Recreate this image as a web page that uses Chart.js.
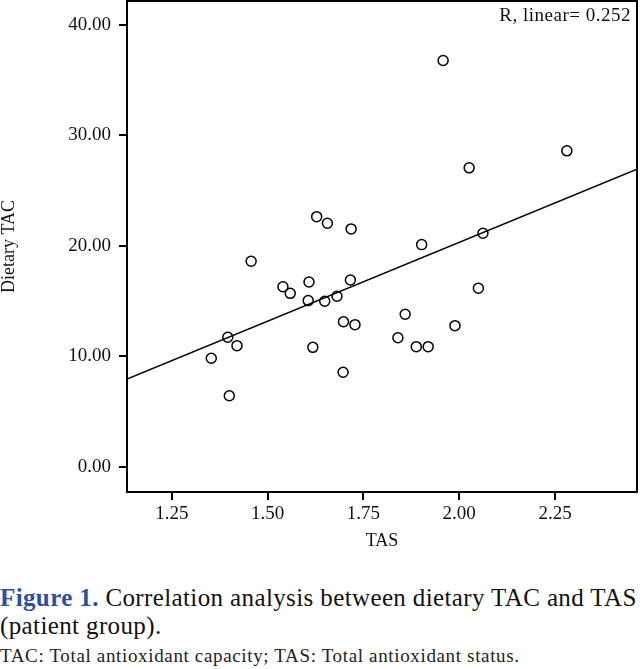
<!DOCTYPE html>
<html>
<head>
<meta charset="utf-8">
<script src="https://cdn.jsdelivr.net/npm/chart.js@4.4.1/dist/chart.umd.min.js"></script>
<style>
    body { margin: 0; background: #fff; font-family: "Liberation Serif", "DejaVu Serif", serif; }
    #wrap { position: relative; width: 644px; height: 556px; }
    .caption { font-size: 25px; letter-spacing: 0.38px; line-height: 28px; color: #111; margin: 28px 0 0 0; }
    .caption b { color: #2c4fa3; }
    .note { font-size: 19px; letter-spacing: 0.65px; color: #222; margin-top: 5px; }
</style>
</head>
<body>
<div id="wrap"><canvas id="scatter"></canvas></div>
<div class="caption"><b>Figure 1.</b> Correlation analysis between dietary TAC and TAS<br>(patient group).</div>
<div class="note">TAC: Total antioxidant capacity; TAS: Total antioxidant status.</div>

<script>
// values
const tasValues = [1.958, 2.026, 2.281, 1.628, 1.656, 1.718, 1.902, 2.062, 1.457, 1.540,
                   1.559, 1.608, 1.716, 2.050, 1.606, 1.649, 1.681, 1.859, 1.698, 1.728,
                   1.989, 1.396, 1.420, 1.840, 1.888, 1.919, 1.618, 1.353, 1.697, 1.400];
const tacValues = [36.78, 27.06, 28.60, 22.64, 22.05, 21.53, 20.11, 21.14, 18.60, 16.30,
                   15.70, 16.73, 16.91, 16.16, 15.04, 14.98, 15.43, 13.80, 13.13, 12.86,
                   12.77, 11.72, 10.96, 11.68, 10.87, 10.87, 10.81, 9.82, 8.55, 6.43];

// fit line end points (at the plot edges)
const fitX = [1.133, 2.464];
const fitY = [7.94, 26.94];

const xTicks = [1.25, 1.50, 1.75, 2.00, 2.25];
const yTicks = [0, 10, 20, 30, 40];
const rLabel = "R, linear= 0.252";

const serif = "'Liberation Serif', 'DejaVu Serif', serif";

const framePlugin = {
    id: 'frame',
    afterDatasetsDraw(chart) {
        const { ctx, chartArea: a } = chart;
        ctx.save();
        ctx.strokeStyle = '#000';
        ctx.lineWidth = 2;
        ctx.strokeRect(a.left, a.top, a.right - a.left, a.bottom - a.top);
        ctx.fillStyle = '#111';
        ctx.font = '19px ' + serif;
        ctx.letterSpacing = '0.5px';
        ctx.textAlign = 'right';
        ctx.textBaseline = 'middle';
        ctx.fillText(rLabel, a.right - 6, a.top + 15);
        ctx.restore();
    }
};

const points = tasValues.map((x, i) => ({ x: x, y: tacValues[i] }));
const fitLine = fitX.map((x, i) => ({ x: x, y: fitY[i] }));

new Chart(document.getElementById('scatter'), {
    type: 'scatter',
    data: {
        datasets: [
            {
                data: fitLine,
                type: 'line',
                showLine: true,
                borderColor: '#000',
                borderWidth: 1.5,
                pointRadius: 0,
                fill: false
            },
            {
                data: points,
                pointRadius: 5,
                pointBorderWidth: 1.5,
                pointBorderColor: '#000',
                pointBackgroundColor: 'rgba(0,0,0,0)'
            }
        ]
    },
    options: {
        responsive: true,
        maintainAspectRatio: false,
        animation: false,
        layout: { autoPadding: false, padding: { top: 1, right: 7, left: 0, bottom: 0 } },
        plugins: { legend: { display: false }, tooltip: { enabled: false } },
        scales: {
            x: {
                type: 'linear',
                min: fitX[0],
                max: fitX[1],
                afterBuildTicks: s => { s.ticks = xTicks.map(v => ({ value: v })); },
                afterFit: s => { s.height = 64; s.paddingLeft = 0; s.paddingRight = 0; },
                border: { display: false },
                grid: { drawOnChartArea: false, tickLength: 8, color: '#000', lineWidth: 2 },
                ticks: {
                    padding: 3,
                    color: '#111',
                    font: { family: serif, size: 19 },
                    callback: v => v.toFixed(2)
                },
                title: {
                    display: true, text: 'TAS', color: '#111',
                    font: { family: serif, size: 18 },
                    padding: { top: 0, bottom: 4 }
                }
            },
            y: {
                type: 'linear',
                min: -2.29,
                max: 42.17,
                afterBuildTicks: s => { s.ticks = yTicks.map(v => ({ value: v })); },
                afterFit: s => { s.width = 127; s.paddingTop = 0; s.paddingBottom = 0; },
                border: { display: false },
                grid: { drawOnChartArea: false, tickLength: 8, color: '#000', lineWidth: 2 },
                ticks: {
                    padding: 8,
                    color: '#111',
                    font: { family: serif, size: 19 },
                    callback: v => v.toFixed(2)
                },
                title: {
                    display: true, text: 'Dietary TAC', color: '#111',
                    font: { family: serif, size: 18 },
                    padding: { top: -2, bottom: 0 }
                }
            }
        }
    },
    plugins: [framePlugin]
});
</script>
</body>
</html>
